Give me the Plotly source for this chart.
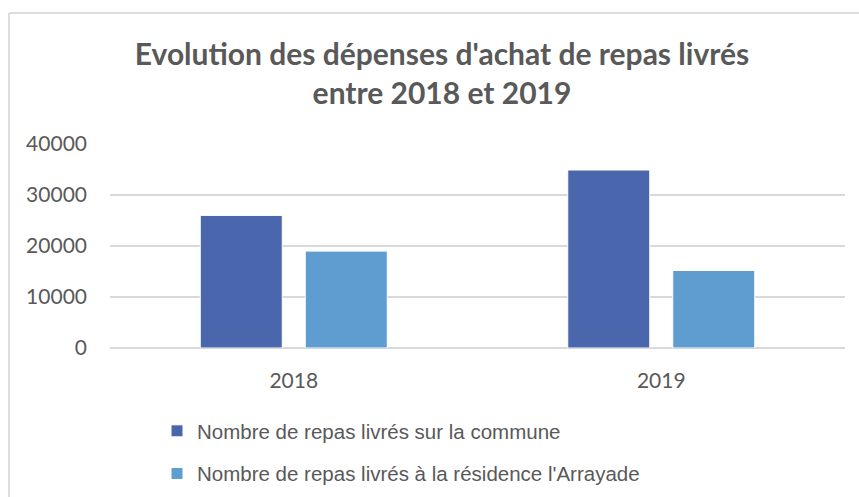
import plotly.graph_objects as go

categories = ["2018", "2019"]
commune = [26000, 34900]
arrayade = [19000, 15200]
series_names = ["Nombre de repas livrés sur la commune",
                "Nombre de repas livrés à la résidence l'Arrayade"]
y_ticks = [0, 10000, 20000, 30000, 40000]

W, H = 859, 497
L, R, T, B = 110, 14, 144, 149
pw, ph = W - L - R, H - T - B

fig = go.Figure()
fig.add_trace(go.Bar(x=categories, y=commune, name=series_names[0],
                     marker=dict(color="#4a66ac", line=dict(color="#ffffff", width=1)),
                     legendgroup="a"))
fig.add_trace(go.Bar(x=categories, y=arrayade, name=series_names[1],
                     marker=dict(color="#5f9dd1", line=dict(color="#ffffff", width=1)),
                     legendgroup="b"))

def px2x(p):
    return (p - L) / pw

def px2y(p):
    return (H - B - p) / ph

fig.update_layout(
    width=W, height=H,
    margin=dict(l=L, r=R, t=T, b=B, autoexpand=False),
    paper_bgcolor="white", plot_bgcolor="white",
    barmode="group", bargap=0.4286, bargroupgap=0.219,
    title=dict(text="Evolution des dépenses d'achat de repas livrés<br>entre 2018 et 2019",
               x=442 / W, xanchor="center", y=1 - 65 / H, yanchor="middle",
               font=dict(family="Lato", size=30, color="#595959", weight="bold")),
    xaxis=dict(type="category", showgrid=False, showline=False, ticks="",
               tickfont=dict(family="Lato", size=21, color="#595959"),
               ticklabelstandoff=18),
    yaxis=dict(range=[0, 40000], tickvals=y_ticks, ticktext=[str(v) for v in y_ticks],
               showgrid=True, gridcolor="#d9d9d9", gridwidth=1.5,
               zeroline=True, zerolinecolor="#d9d9d9", zerolinewidth=1.5,
               showline=False, ticks="",
               tickfont=dict(family="Lato", size=21, color="#595959"),
               ticklabelstandoff=22),
    legend=dict(x=px2x(157), y=px2y(411),
                xanchor="left", yanchor="top", orientation="v",
                font=dict(family="Liberation Sans", size=20.5, color="#595959"),
                tracegroupgap=13, itemwidth=30, bgcolor="rgba(0,0,0,0)"),
    showlegend=True,
)

fig.add_shape(type="line", xref="paper", yref="paper",
              x0=px2x(9), x1=px2x(9), y0=px2y(13), y1=px2y(520),
              line=dict(color="#dcdcdc", width=2))
fig.add_shape(type="line", xref="paper", yref="paper",
              x0=px2x(9), x1=px2x(880), y0=px2y(13), y1=px2y(13),
              line=dict(color="#dcdcdc", width=2))

fig.write_html("out.html", config={"displayModeBar": False},
               post_script="document.body.style.margin='0';")
